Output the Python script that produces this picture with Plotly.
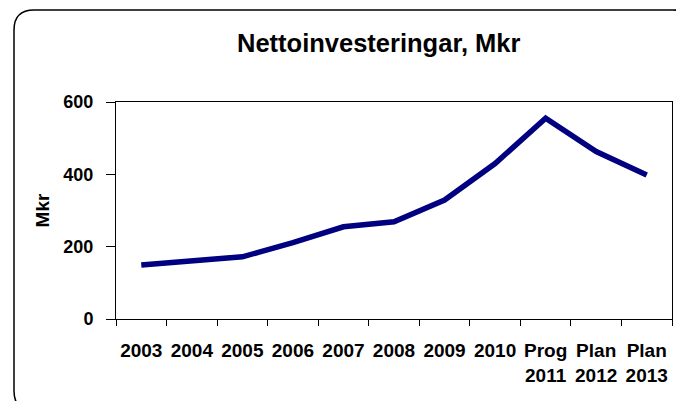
import plotly.graph_objects as go

categories = ["2003", "2004", "2005", "2006", "2007", "2008", "2009", "2010",
              "Prog<br>2011", "Plan<br>2012", "Plan<br>2013"]
values = [149, 160, 172, 211, 255, 269, 329, 430, 555, 463, 398]
y_ticks = [0, 200, 400, 600]

# page body adds an 8px offset, so the figure is laid out in shifted coords
OFF = 8
W, H = 684 - OFF, 401 - OFF
L, R, T, B = 116 - OFF, 684 - 672, 102 - OFF, 401 - 319
pw, ph = W - L - R, H - T - B


def px_x(x):
    return (x - OFF - L) / pw


def px_y(y):
    return (H - B - (y - OFF)) / ph


FAM = "Liberation Sans, Arial, sans-serif"

fig = go.Figure()
fig.add_trace(go.Scatter(x=categories, y=values, mode="lines",
                         line=dict(color="#000080", width=5.5)))

# rounded outer border
x0, x1 = px_x(14), px_x(693)
y0, y1 = px_y(411), px_y(10)
rx, ry = 20 / pw, 20 / ph
path = (f"M {x0+rx},{y1} L {x1-rx},{y1} Q {x1},{y1} {x1},{y1-ry} "
        f"L {x1},{y0+ry} Q {x1},{y0} {x1-rx},{y0} L {x0+rx},{y0} "
        f"Q {x0},{y0} {x0},{y0+ry} L {x0},{y1-ry} Q {x0},{y1} {x0+rx},{y1} Z")
fig.add_shape(type="path", path=path, xref="paper", yref="paper",
              line=dict(color="black", width=1.5), layer="below")

fig.add_annotation(text="<b>Nettoinvesteringar, Mkr</b>", x=px_x(378.5), y=px_y(43),
                   xref="paper", yref="paper", showarrow=False,
                   xanchor="center", yanchor="middle",
                   font=dict(family=FAM, size=25.5, color="black"))

fig.update_layout(
    width=W, height=H,
    margin=dict(l=L, r=R, t=T, b=B, pad=0, autoexpand=False),
    paper_bgcolor="white", plot_bgcolor="white",
    showlegend=False,
    font=dict(family=FAM, size=18, color="black"),
)
fig.update_xaxes(type="category", tickson="boundaries", ticks="outside", ticklen=6,
                 tickcolor="black", showline=True, linecolor="black", linewidth=1,
                 mirror=True, showgrid=False, tickangle=0, automargin=False,
                 tickfont=dict(family=FAM, size=19, weight="bold", color="black"),
                 ticklabelstandoff=14, range=[-0.5, 10.5])
fig.update_yaxes(range=[0, 600], tickvals=y_ticks, ticks="outside", ticklen=9,
                 tickcolor="black", showline=True, linecolor="black", linewidth=1,
                 mirror=True, showgrid=False, automargin=False,
                 tickfont=dict(family=FAM, size=18, weight="bold", color="black"),
                 ticklabelstandoff=9,
                 title=dict(text="<b>Mkr</b>", font=dict(family=FAM, size=19), standoff=8),
                 zeroline=False)

fig.write_html("out.html")
